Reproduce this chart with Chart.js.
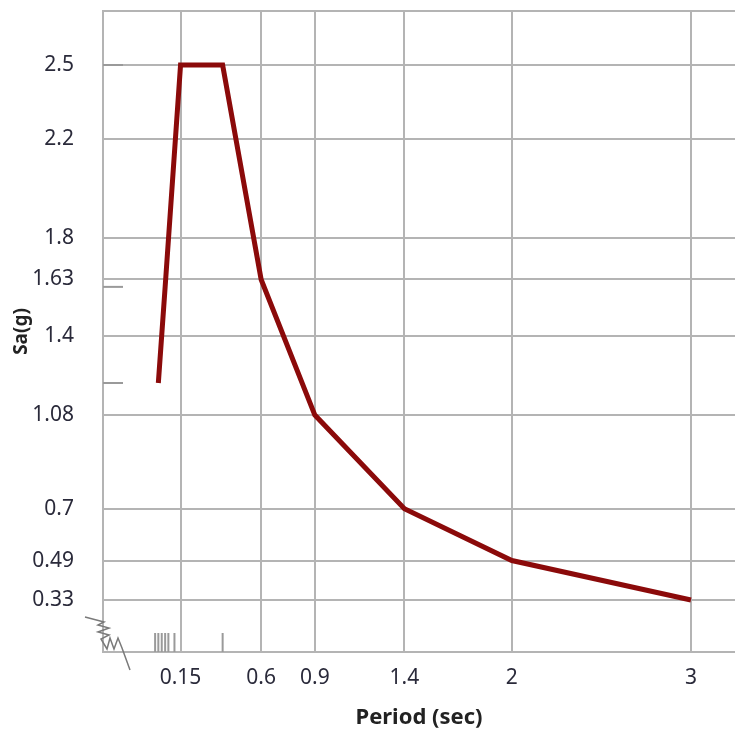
<!DOCTYPE html>
<html>
<head>
<meta charset="utf-8">
<script src="https://cdn.jsdelivr.net/npm/chart.js@4.4.1/dist/chart.umd.min.js"></script>
<style>
  body { margin: 0; background: #fff; }
  canvas { display: block; }
</style>
</head>
<body>
<canvas id="chart" width="735" height="740"></canvas>
<script>
// valores
const periods = [0.026, 0.064, 0.15, 0.385, 0.6, 0.9, 1.4, 2, 3];
const saValues = [1.21, 1.60, 2.5, 2.5, 1.63, 1.08, 0.7, 0.49, 0.33];
const xTickValues = [0.15, 0.6, 0.9, 1.4, 2, 3];
const yTickValues = [0.33, 0.49, 0.7, 1.08, 1.4, 1.63, 1.8, 2.2, 2.5];
const xMinorTicks = [0.008, 0.026, 0.045, 0.064, 0.082, 0.116, 0.385];
const yMarkTicks = [1.21, 1.6, 2.5];

const xMin = -0.283, xMax = 3.246;
const yMin = 0.119, yMax = 2.719;

const gridColor = '#b4b4b4';
const fontFamily = '"Noto Sans", "Open Sans", sans-serif';

// marcas pequenas e o símbolo de quebra do eixo
const extrasPlugin = {
    id: 'extras',
    afterDraw(chart) {
        const ctx = chart.ctx;
        const xs = chart.scales.x, ys = chart.scales.y;
        const area = chart.chartArea;
        ctx.save();
        ctx.strokeStyle = '#9a9a9a';
        ctx.lineWidth = 2;
        xMinorTicks.forEach(v => {
            const px = xs.getPixelForValue(v);
            ctx.beginPath();
            ctx.moveTo(px, area.bottom);
            ctx.lineTo(px, area.bottom - 19);
            ctx.stroke();
        });
        yMarkTicks.forEach(v => {
            const py = ys.getPixelForValue(v);
            ctx.beginPath();
            ctx.moveTo(area.left, py);
            ctx.lineTo(area.left + 20, py);
            ctx.stroke();
        });
        // zigue-zague da quebra
        ctx.strokeStyle = '#7a7a7a';
        ctx.lineWidth = 1.5;
        const l = area.left, b = area.bottom;
        const zz = [[-18, -35], [1, -30], [-5, -27], [6, -24], [-5, -20], [6, -17], [-2, -13],
                    [4, -3], [7, -14], [11, -3], [15, -14], [19, -4], [27, 18]];
        ctx.beginPath();
        ctx.moveTo(l + zz[0][0], b + zz[0][1]);
        zz.slice(1).forEach(p => ctx.lineTo(l + p[0], b + p[1]));
        ctx.stroke();
        ctx.restore();
    }
};

const ctx = document.getElementById('chart').getContext('2d');
new Chart(ctx, {
    type: 'line',
    data: {
        datasets: [{
            data: periods.map((p, i) => ({ x: p, y: saValues[i] })),
            borderColor: '#8b0a0a',
            borderWidth: 5,
            pointRadius: 0,
            fill: false,
            tension: 0
        }]
    },
    options: {
        responsive: false,
        animation: false,
        layout: { padding: { top: 11, right: 0, left: 0, bottom: 0 } },
        plugins: {
            legend: { display: false },
            tooltip: { enabled: false }
        },
        scales: {
            x: {
                type: 'linear',
                min: xMin,
                max: xMax,
                afterBuildTicks: s => { s.ticks = xTickValues.map(v => ({ value: v })); },
                afterFit: s => { s.height = 88; s.paddingLeft = 0; s.paddingRight = 0; },
                grid: { color: gridColor, lineWidth: 2, drawTicks: false },
                border: { color: gridColor, width: 2 },
                ticks: {
                    padding: 13,
                    color: '#2a2a3a',
                    font: { family: fontFamily, size: 21 },
                    maxRotation: 0,
                    callback: v => String(v)
                },
                title: {
                    display: true,
                    text: 'Period (sec)',
                    color: '#222',
                    font: { family: fontFamily, size: 22, weight: 'bold' },
                    padding: { top: 0, bottom: 9 }
                }
            },
            y: {
                min: yMin,
                max: yMax,
                afterBuildTicks: s => { s.ticks = yTickValues.concat([yMax]).map(v => ({ value: v })); },
                afterFit: s => { s.width = 103; s.paddingTop = 0; s.paddingBottom = 0; },
                grid: { color: gridColor, lineWidth: 2, drawTicks: false },
                border: { color: gridColor, width: 2 },
                ticks: {
                    padding: 29,
                    color: '#2a2a3a',
                    font: { family: fontFamily, size: 21 },
                    callback: v => (v === yMax ? '' : String(v))
                },
                title: {
                    display: true,
                    text: 'Sa(g)',
                    color: '#222',
                    font: { family: fontFamily, size: 19, weight: 'bold' },
                    padding: { top: 10, bottom: 0 }
                }
            }
        }
    },
    plugins: [extrasPlugin]
});
</script>
</body>
</html>
